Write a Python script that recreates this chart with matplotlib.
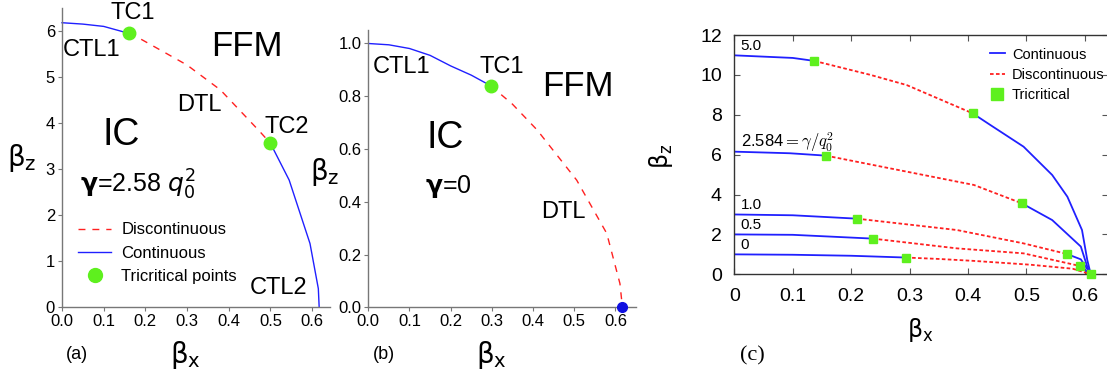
import numpy as np
import matplotlib.pyplot as plt
from matplotlib.lines import Line2D

plt.rcParams['font.family'] = ['Liberation Sans', 'DejaVu Sans']
plt.rcParams['mathtext.fontset'] = 'custom'
plt.rcParams['mathtext.rm'] = 'Liberation Sans'
plt.rcParams['mathtext.it'] = 'Liberation Sans:italic'

BLUE = '#2020ff'
RED = '#ff2020'
GREEN = '#5ef01e'
GRAY = '#777777'

# (a) gamma = 2.58 q0^2
a_ctl1_x = [0.0, 0.05, 0.1, 0.16]
a_ctl1_y = [6.18, 6.15, 6.10, 5.95]
a_dtl_x = [0.16, 0.186, 0.30, 0.38, 0.475, 0.50]
a_dtl_y = [5.95, 5.84, 5.26, 4.72, 3.81, 3.56]
a_ctl2_x = [0.50, 0.545, 0.595, 0.615, 0.617]
a_ctl2_y = [3.56, 2.76, 1.38, 0.40, 0.0]
a_tc_x = [0.16, 0.50]
a_tc_y = [5.95, 3.56]

# (b) gamma = 0
b_ctl1_x = [0.0, 0.05, 0.1, 0.15, 0.2, 0.25, 0.297]
b_ctl1_y = [1.0, 0.995, 0.981, 0.955, 0.915, 0.88, 0.84]
b_dtl_x = [0.297, 0.35, 0.41, 0.506, 0.579, 0.611, 0.617]
b_dtl_y = [0.84, 0.77, 0.672, 0.482, 0.28, 0.09, 0.0]
b_tc_x = [0.297]
b_tc_y = [0.84]
b_end_x = [0.617]
b_end_y = [0.0]

# (c) transition lines for several gamma/q0^2
c_gammas = ['5.0', '2.584', '1.0', '0.5', '0']
c_cont1_x = [[0, 0.1, 0.137], [0, 0.095, 0.157], [0, 0.1, 0.21],
             [0, 0.1, 0.237], [0, 0.1, 0.2, 0.294]]
c_cont1_y = [[10.98, 10.85, 10.70], [6.15, 6.07, 5.95], [3.0, 2.96, 2.79],
             [2.0, 1.98, 1.79], [1.0, 0.98, 0.93, 0.84]]
c_disc_x = [[0.137, 0.233, 0.295, 0.408], [0.157, 0.267, 0.41, 0.492],
            [0.21, 0.381, 0.495, 0.569], [0.237, 0.381, 0.495, 0.591],
            [0.294, 0.35, 0.41, 0.506, 0.579, 0.61]]
c_disc_y = [[10.70, 10.0, 9.49, 8.07], [5.95, 5.31, 4.48, 3.56],
            [2.79, 2.22, 1.55, 1.02], [1.79, 1.30, 1.05, 0.42],
            [0.84, 0.77, 0.672, 0.482, 0.28, 0.0]]
c_cont2_x = [[0.408, 0.438, 0.495, 0.544, 0.570, 0.595, 0.604, 0.61],
             [0.492, 0.544, 0.593, 0.604, 0.61],
             [0.569, 0.593, 0.61], [0.591, 0.61], []]
c_cont2_y = [[8.07, 7.49, 6.40, 4.98, 3.89, 2.22, 0.72, 0.0],
             [3.56, 2.72, 1.39, 0.38, 0.0],
             [1.02, 0.75, 0.0], [0.42, 0.0], []]
c_label_y = [11.46, 6.65, 3.48, 2.47, 1.47]

BX = r'$\mathrm{\beta_x}$'
BZ = r'$\mathrm{\beta_z}$'

fig = plt.figure(figsize=(11.07, 3.74), dpi=100)


def style_ab(ax):
    for s in ['top', 'right']:
        ax.spines[s].set_visible(False)
    for s in ['left', 'bottom']:
        ax.spines[s].set_color(GRAY)
        ax.spines[s].set_linewidth(1.0)
    ax.tick_params(colors=GRAY, labelcolor='black', labelsize=12,
                   length=3, width=0.8, pad=2)


# ---- panel (a)
ax = fig.add_axes([62 / 1107, 67 / 374, 268 / 1107, 299 / 374])
style_ab(ax)
ax.plot(a_ctl1_x, a_ctl1_y, color=BLUE, lw=1.0, clip_on=False)
ax.plot(a_dtl_x, a_dtl_y, color=RED, lw=1.0, dashes=(5, 5))
ax.plot(a_ctl2_x, a_ctl2_y, color=BLUE, lw=1.0, clip_on=False)
ax.plot(a_tc_x, a_tc_y, 'o', color=GREEN, ms=9, zorder=5)
ax.set_xlim(0, 0.643)
ax.set_ylim(0, 6.5)
ax.set_xticks(np.arange(0, 0.61, 0.1))
ax.set_xticklabels(['0.0', '0.1', '0.2', '0.3', '0.4', '0.5', '0.6'])
ax.set_yticks(range(7))
ax.text(0.17, 6.39, 'TC1', fontsize=17, ha='center', va='center')
ax.text(0.071, 5.59, 'CTL1', fontsize=17, ha='center', va='center')
ax.text(0.443, 5.66, 'FFM', fontsize=25, ha='center', va='center')
ax.text(0.329, 4.39, 'DTL', fontsize=17, ha='center', va='center')
ax.text(0.539, 3.92, 'TC2', fontsize=17, ha='center', va='center')
ax.text(0.141, 3.74, 'IC', fontsize=27, ha='center', va='center')
ax.text(0.183, 2.65, r'$\mathbf{\gamma}$=2.58 $q_0^2$', fontsize=18,
        ha='center', va='center', math_fontfamily='dejavusans')
ax.text(0.519, 0.41, 'CTL2', fontsize=17, ha='center', va='center')
handles = [Line2D([], [], color=RED, lw=1.0, dashes=(5, 5)),
           Line2D([], [], color=BLUE, lw=1.0),
           Line2D([], [], ls='none', marker='o', color=GREEN, ms=10)]
ax.legend(handles, ['Discontinuous', 'Continuous', 'Tricritical points'],
          loc='upper left', bbox_to_anchor=(0.035, 0.305), frameon=False,
          fontsize=12, handlelength=2.0, handletextpad=0.6, labelspacing=0.5,
          borderaxespad=0)
ax.text(-0.150, 0.498, BZ, fontsize=20, transform=ax.transAxes,
        ha='center', va='center', math_fontfamily='dejavusans')
ax.text(0.459, -0.16, BX, fontsize=20, transform=ax.transAxes,
        ha='center', va='center', math_fontfamily='dejavusans')
ax.text(0.015, -0.16, '(a)', fontsize=13, transform=ax.transAxes,
        ha='left', va='center')

# ---- panel (b)
ax = fig.add_axes([368.3 / 1107, 66.7 / 374, 267.7 / 1107, 277 / 374])
style_ab(ax)
ax.plot(b_ctl1_x, b_ctl1_y, color=BLUE, lw=1.0)
ax.plot(b_dtl_x, b_dtl_y, color=RED, lw=1.0, dashes=(5, 5))
ax.plot(b_tc_x, b_tc_y, 'o', color=GREEN, ms=9, zorder=5)
ax.plot(b_end_x, b_end_y, 'o', color='#1010e0', ms=7, zorder=5, clip_on=False)
ax.set_xlim(0, 0.65)
ax.set_ylim(0, 1.05)
ax.set_xticks(np.arange(0, 0.61, 0.1))
ax.set_xticklabels(['0.0', '0.1', '0.2', '0.3', '0.4', '0.5', '0.6'])
ax.set_yticks([0, 0.2, 0.4, 0.6, 0.8, 1.0])
ax.set_yticklabels(['0.0', '0.2', '0.4', '0.6', '0.8', '1.0'])
ax.text(0.081, 0.911, 'CTL1', fontsize=17, ha='center', va='center')
ax.text(0.324, 0.911, 'TC1', fontsize=17, ha='center', va='center')
ax.text(0.51, 0.836, 'FFM', fontsize=25, ha='center', va='center')
ax.text(0.186, 0.64, 'IC', fontsize=27, ha='center', va='center')
ax.text(0.194, 0.457, r'$\mathbf{\gamma}$=0', fontsize=18,
        ha='center', va='center', math_fontfamily='dejavusans')
ax.text(0.473, 0.362, 'DTL', fontsize=17, ha='center', va='center')
ax.text(-0.162, 0.488, BZ, fontsize=20, transform=ax.transAxes,
        ha='center', va='center', math_fontfamily='dejavusans')
ax.text(0.461, -0.172, BX, fontsize=20, transform=ax.transAxes,
        ha='center', va='center', math_fontfamily='dejavusans')
ax.text(0.016, -0.172, '(b)', fontsize=13, transform=ax.transAxes,
        ha='left', va='center')

# ---- panel (c)
ax = fig.add_axes([734.3 / 1107, 99.7 / 374, 374 / 1107, 239.3 / 374])
for s in ax.spines.values():
    s.set_color('#333333')
    s.set_linewidth(1.0)
ax.tick_params(direction='in', top=True, right=True, length=4, width=0.8,
               colors='#555555', labelcolor='black', labelsize=14)
ax.tick_params(axis='y', pad=9)
ax.tick_params(axis='x', pad=10)
for i in range(len(c_gammas)):
    ax.plot(c_cont1_x[i], c_cont1_y[i], color=BLUE, lw=1.3)
    ax.plot(c_disc_x[i], c_disc_y[i], color=RED, lw=1.3, dashes=(2, 1.3))
    if c_cont2_x[i]:
        ax.plot(c_cont2_x[i], c_cont2_y[i], color=BLUE, lw=1.3)
    tc_x = [c_cont1_x[i][-1], c_disc_x[i][-1]]
    tc_y = [c_cont1_y[i][-1], c_disc_y[i][-1]]
    ax.plot(tc_x, tc_y, 's', color=GREEN, ms=6, zorder=5, clip_on=False)
    if c_gammas[i] == '2.584':
        ax.text(0.011, c_label_y[i], '2.584' + r'$=\gamma/q_0^2$', fontsize=12,
                ha='left', va='center', math_fontfamily='cm')
    else:
        ax.text(0.011, c_label_y[i], c_gammas[i], fontsize=11,
                ha='left', va='center')
ax.set_xlim(0, 0.64)
ax.set_ylim(0, 12)
ax.set_xticks(np.arange(0, 0.61, 0.1))
ax.set_xticklabels(['0', '0.1', '0.2', '0.3', '0.4', '0.5', '0.6'])
ax.set_yticks(range(0, 13, 2))
handles = [Line2D([], [], color=BLUE, lw=1.3),
           Line2D([], [], color=RED, lw=1.3, dashes=(2, 1.3)),
           Line2D([], [], ls='none', marker='s', color=GREEN, ms=8)]
ax.legend(handles, ['Continuous', 'Discontinuous', 'Tricritical'],
          loc='upper left', bbox_to_anchor=(0.668, 0.972), frameon=False,
          fontsize=10.5, handlelength=1.0, handletextpad=0.5, labelspacing=0.42,
          borderaxespad=0)
ax.text(-0.195, 0.491, BZ, fontsize=17, transform=ax.transAxes,
        ha='center', va='center', rotation=90, math_fontfamily='dejavusans')
ax.text(0.498, -0.233, BX, fontsize=17, transform=ax.transAxes,
        ha='center', va='center', math_fontfamily='dejavusans')
ax.text(0.015, -0.34, '(c)', fontsize=16, transform=ax.transAxes,
        ha='left', va='center', family='Liberation Serif')

fig.savefig('out.png', dpi=100)
